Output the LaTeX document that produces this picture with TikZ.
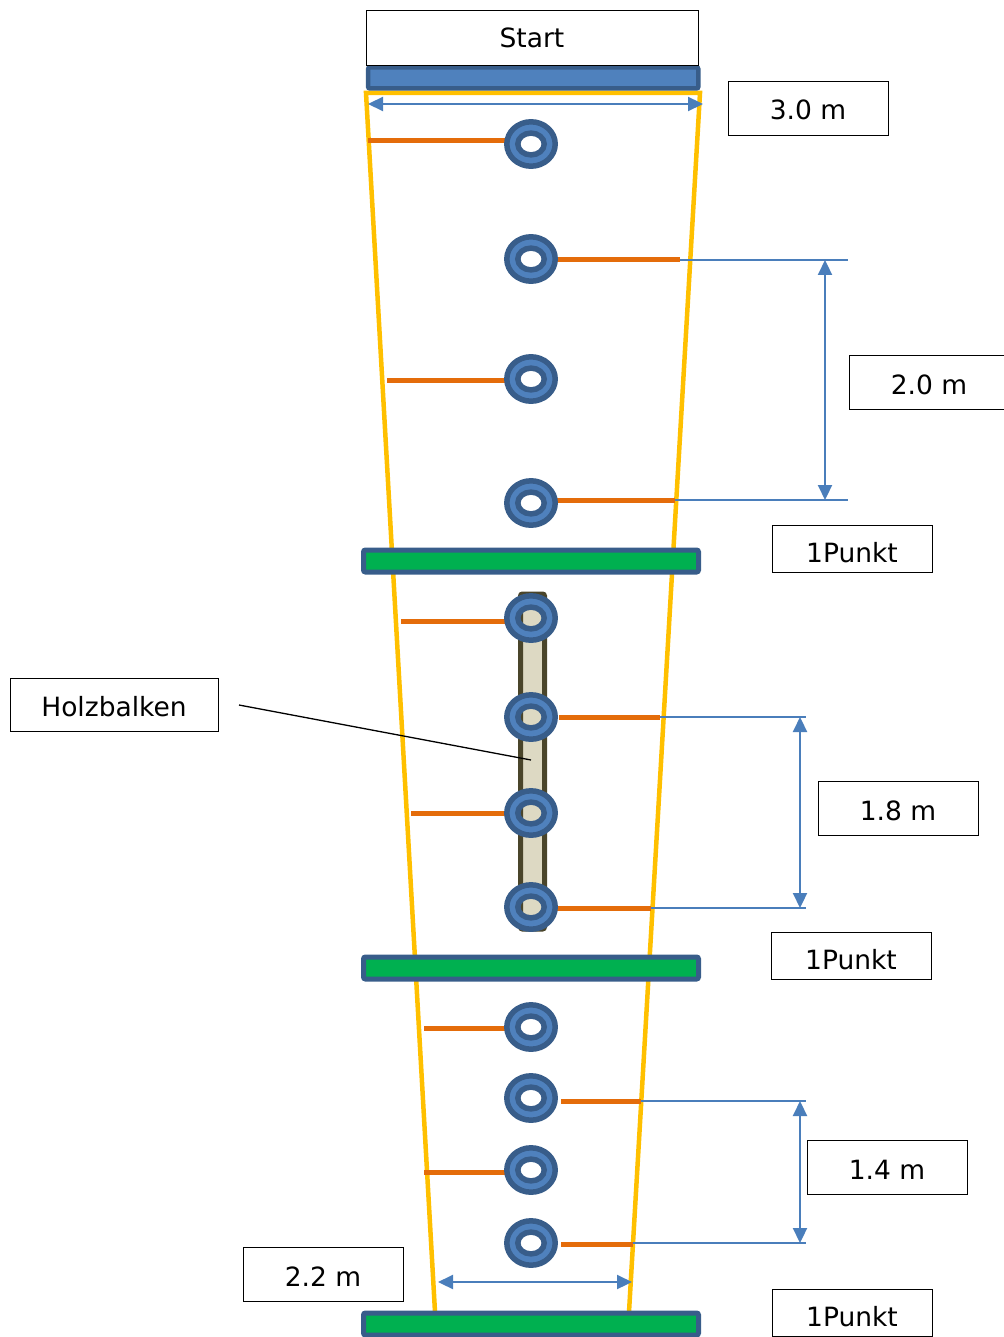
\documentclass[tikz,border=0pt]{standalone}
\usepackage{fontspec}
\setmainfont{DejaVu Sans}
\usetikzlibrary{arrows.meta}
\definecolor{ringblue}{HTML}{4F81BD}
\definecolor{ringdark}{HTML}{385D8A}
\definecolor{bargreen}{HTML}{00B050}
\definecolor{laneyellow}{HTML}{FFC000}
\definecolor{ropeorange}{HTML}{E46C0A}
\definecolor{dimblue}{HTML}{4A7EBB}
\definecolor{woodfill}{HTML}{DDD9C3}
\definecolor{wooddark}{HTML}{4A452A}
\newcommand{\drawring}[1]{%
  \fill[ringblue,even odd rule] (531,#1) ellipse[x radius=24.2pt,y radius=22.2pt] (531,#1) ellipse[x radius=13.2pt,y radius=10.9pt];
  \draw[ringdark,line width=5.5pt] (531,#1) ellipse[x radius=24.2pt,y radius=22.2pt] (531,#1) ellipse[x radius=13.2pt,y radius=10.9pt];}
\begin{document}
\begin{tikzpicture}[x=1pt,y=-1pt,
  lbl/.style={draw=black, line width=0.9pt, fill=white, minimum width=160pt, minimum height=54pt, inner sep=0pt, font=\fontsize{26.5}{30}\selectfont, text depth=0pt, text height=23pt},
  ptbox/.style={lbl, minimum height=47pt, text height=27pt},
  greenbar/.style={draw=ringdark, fill=bargreen, line width=5pt, rounded corners=2pt},
  bluebar/.style={draw=ringdark, fill=ringblue, line width=4.5pt, rounded corners=2pt},
  lane/.style={draw=laneyellow, line width=4.5pt},
  rope/.style={draw=ropeorange, line width=5pt},
  extline/.style={draw=dimblue, line width=1.5pt},
  dimarrow/.style={draw=dimblue, line width=2.2pt, {Triangle[length=15pt,width=14pt]}-{Triangle[length=15pt,width=14pt]}},
  pointer/.style={draw=black, line width=1.3pt}
]
\useasboundingbox (0,0) rectangle (1003,1337);

% lane (yellow trapezoid)
\coordinate (tl) at (366,93);
\coordinate (tr) at (700,93);
\coordinate (bl) at (435,1312);
\coordinate (br) at (629,1312);
\draw[lane] (bl) -- (tl) -- (tr) -- (br);

% ropes
\draw[rope] (368,141) -- (508,141);
\draw[rope] (555,260) -- (680,260);
\draw[rope] (387,380) -- (507,380);
\draw[rope] (555,500) -- (675,500);
\draw[rope] (401,621) -- (510,621);
\draw[rope] (559,717) -- (660,717);
\draw[rope] (411,813) -- (507,813);
\draw[rope] (555,908) -- (651,908);
\draw[rope] (424,1028) -- (507,1028);
\draw[rope] (561,1101) -- (641,1101);
\draw[rope] (424,1172) -- (507,1172);
\draw[rope] (561,1244) -- (633,1244);

% wooden beam
\draw[draw=wooddark, fill=woodfill, line width=5pt, rounded corners=2pt] (520.5,594) rectangle (544.5,929);

% rings
\drawring{144}
\drawring{259}
\drawring{379}
\drawring{503}
\drawring{618}
\drawring{717}
\drawring{813}
\drawring{907}
\drawring{1027}
\drawring{1098}
\drawring{1170}
\drawring{1243}

% bars
\draw[bluebar] (368,67.3) rectangle (698.4,88.5);
\draw[greenbar] (363.5,550) rectangle (698.5,572);
\draw[greenbar] (363.5,957) rectangle (698.5,979);
\draw[greenbar] (363.5,1313) rectangle (698.5,1335);

% labels
\node[lbl, minimum width=332pt, minimum height=55pt, text height=21pt] (start) at (532,37.5) {Start};
\node[lbl, text height=24pt] (d30) at (808,108) {3.0 m};
\node[lbl] (d20) at (929,382.5) {2.0 m};
\node[ptbox] (p1) at (852,548.5) {1Punkt};
\node[lbl] (d18) at (898,808.5) {1.8 m};
\node[ptbox] (p2) at (851,955.5) {1Punkt};
\node[lbl] (d14) at (887,1167.5) {1.4 m};
\node[lbl] (d22) at (323,1274.5) {2.2 m};
\node[ptbox] (p3) at (852,1312.5) {1Punkt};
\node[lbl, minimum width=208pt, minimum height=53pt] (holz) at (114,704.5) {Holzbalken};

% Holzbalken pointer
\coordinate (hs) at (239,705);
\coordinate (he) at (531,760);
\draw[pointer] (hs) -- (he);

% width dimensions
\coordinate (w1a) at (368,104);
\coordinate (w1b) at (703,104);
\draw[dimarrow] (w1a) -- (w1b);
\coordinate (w2a) at (438,1282);
\coordinate (w2b) at (632,1282);
\draw[dimarrow] (w2a) -- (w2b);

% 2.0 m
\coordinate (e1a) at (680,260);
\coordinate (e1b) at (848,260);
\coordinate (e2a) at (675,500);
\coordinate (e2b) at (848,500);
\draw[extline] (e1a) -- (e1b);
\draw[extline] (e2a) -- (e2b);
\coordinate (v1a) at (825,260);
\coordinate (v1b) at (825,500);
\draw[dimarrow] (v1a) -- (v1b);

% 1.8 m
\coordinate (e3a) at (660,717);
\coordinate (e3b) at (806,717);
\coordinate (e4a) at (651,908);
\coordinate (e4b) at (806,908);
\draw[extline] (e3a) -- (e3b);
\draw[extline] (e4a) -- (e4b);
\coordinate (v2a) at (800,717);
\coordinate (v2b) at (800,908);
\draw[dimarrow] (v2a) -- (v2b);

% 1.4 m
\coordinate (e5a) at (641,1101);
\coordinate (e5b) at (806,1101);
\coordinate (e6a) at (633,1243);
\coordinate (e6b) at (806,1243);
\draw[extline] (e5a) -- (e5b);
\draw[extline] (e6a) -- (e6b);
\coordinate (v3a) at (800,1101);
\coordinate (v3b) at (800,1243);
\draw[dimarrow] (v3a) -- (v3b);
\end{tikzpicture}
\end{document}
